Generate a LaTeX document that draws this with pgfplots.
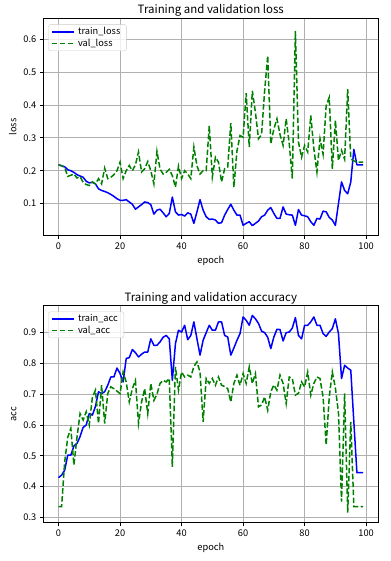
\documentclass[border=0pt]{standalone}
\usepackage{fontspec}
\setmainfont{Noto Sans CJK JP}
\usepackage{pgfplots}
\usepackage{pgfplotstable}
\pgfplotsset{compat=1.18}
\definecolor{mplblue}{RGB}{0,0,255}
\definecolor{mplgreen}{RGB}{0,128,0}
\definecolor{gridgray}{RGB}{176,176,176}
\definecolor{legedge}{RGB}{204,204,204}

\pgfplotstableread{
epoch train val
0 0.218 0.218
1 0.215 0.215
2 0.212 0.210
3 0.203 0.183
4 0.200 0.186
5 0.195 0.190
6 0.188 0.178
7 0.184 0.182
8 0.180 0.165
9 0.168 0.158
10 0.163 0.155
11 0.165 0.166
12 0.160 0.160
13 0.145 0.176
14 0.140 0.160
15 0.137 0.208
16 0.133 0.176
17 0.128 0.180
18 0.122 0.188
19 0.115 0.200
20 0.110 0.226
21 0.110 0.176
22 0.112 0.200
23 0.105 0.216
24 0.098 0.200
25 0.083 0.218
26 0.090 0.257
27 0.097 0.196
28 0.105 0.206
29 0.103 0.228
30 0.097 0.200
31 0.068 0.160
32 0.080 0.259
33 0.083 0.205
34 0.072 0.190
35 0.060 0.195
36 0.070 0.204
37 0.120 0.185
38 0.075 0.150
39 0.065 0.214
40 0.067 0.176
41 0.062 0.200
42 0.072 0.190
43 0.068 0.176
44 0.040 0.272
45 0.075 0.215
46 0.112 0.190
47 0.080 0.200
48 0.060 0.200
49 0.052 0.337
50 0.053 0.181
51 0.050 0.241
52 0.040 0.226
53 0.042 0.166
54 0.065 0.206
55 0.082 0.211
56 0.098 0.345
57 0.080 0.150
58 0.065 0.260
59 0.065 0.307
60 0.034 0.302
61 0.040 0.436
62 0.045 0.272
63 0.033 0.443
64 0.040 0.378
65 0.047 0.297
66 0.060 0.310
67 0.065 0.443
68 0.080 0.550
69 0.088 0.282
70 0.070 0.327
71 0.055 0.358
72 0.055 0.310
73 0.090 0.277
74 0.068 0.358
75 0.066 0.282
76 0.065 0.176
77 0.034 0.625
78 0.082 0.287
79 0.065 0.241
80 0.063 0.277
81 0.060 0.257
82 0.045 0.368
83 0.034 0.267
84 0.055 0.196
85 0.053 0.297
86 0.077 0.250
87 0.075 0.398
88 0.058 0.423
89 0.050 0.206
90 0.034 0.353
91 0.100 0.231
92 0.166 0.262
93 0.140 0.235
94 0.130 0.448
95 0.166 0.236
96 0.265 0.230
97 0.218 0.226
98 0.218 0.226
99 0.218 0.226
}\losstable

\pgfplotstableread{
epoch train val
0 0.429 0.335
1 0.437 0.335
2 0.453 0.480
3 0.502 0.560
4 0.502 0.589
5 0.532 0.470
6 0.540 0.560
7 0.562 0.637
8 0.592 0.616
9 0.600 0.643
10 0.637 0.600
11 0.632 0.690
12 0.660 0.713
13 0.708 0.605
14 0.702 0.729
15 0.708 0.605
16 0.729 0.702
17 0.756 0.724
18 0.756 0.718
19 0.785 0.710
20 0.767 0.702
21 0.740 0.772
22 0.816 0.740
23 0.819 0.675
24 0.845 0.718
25 0.835 0.745
26 0.821 0.605
27 0.830 0.675
28 0.837 0.718
29 0.837 0.637
30 0.880 0.735
31 0.859 0.680
32 0.859 0.700
33 0.870 0.735
34 0.885 0.745
35 0.891 0.740
36 0.880 0.751
37 0.745 0.464
38 0.864 0.789
39 0.908 0.713
40 0.902 0.772
41 0.924 0.756
42 0.877 0.762
43 0.891 0.756
44 0.935 0.790
45 0.880 0.805
46 0.827 0.772
47 0.875 0.610
48 0.900 0.751
49 0.924 0.735
50 0.908 0.751
51 0.908 0.729
52 0.935 0.756
53 0.935 0.729
54 0.891 0.725
55 0.886 0.718
56 0.827 0.675
57 0.850 0.735
58 0.875 0.762
59 0.897 0.729
60 0.951 0.767
61 0.940 0.735
62 0.924 0.789
63 0.956 0.735
64 0.945 0.767
65 0.930 0.659
66 0.905 0.665
67 0.900 0.691
68 0.885 0.648
69 0.848 0.708
70 0.886 0.730
71 0.911 0.713
72 0.910 0.762
73 0.873 0.735
74 0.900 0.670
75 0.902 0.756
76 0.915 0.751
77 0.949 0.697
78 0.891 0.703
79 0.880 0.740
80 0.924 0.724
81 0.924 0.772
82 0.935 0.697
83 0.951 0.735
84 0.924 0.756
85 0.924 0.751
86 0.897 0.691
87 0.888 0.535
88 0.902 0.690
89 0.913 0.772
90 0.945 0.720
91 0.897 0.640
92 0.751 0.351
93 0.794 0.703
94 0.785 0.315
95 0.778 0.610
96 0.610 0.335
97 0.445 0.335
98 0.445 0.335
99 0.445 0.335
}\acctable

\pgfplotsset{
  mpl/.style={
    scale only axis, width=335bp, height=217bp,
    xmin=-4.95, xmax=103.95,
    xtick={0,20,40,60,80,100},
    tick align=outside, xtick pos=left, ytick pos=left,
    major tick length=3.5bp,
    tick style={black, line width=0.8bp},
    axis line style={black, line width=0.8bp},
    grid=major,
    grid style={gridgray, line width=0.8bp},
    /pgf/number format/assume math mode=true,
    /pgf/number format/fixed,
    /pgf/number format/precision=1,
    tick label style={font=\fontsize{9.3}{11}\selectfont},
    label style={font=\fontsize{9.3}{11}\selectfont},
    every axis title shift=0pt,
    title style={font=\fontsize{11.5}{13}\selectfont, anchor=base, yshift=4.5bp},
    xlabel={epoch},
    legend cell align=left,
    legend style={at={(0.015,0.973)}, anchor=north west,
      draw=legedge, rounded corners=2bp, fill=white, fill opacity=0.8, text opacity=1,
      font=\fontsize{9.3}{11}\selectfont, inner xsep=2.5bp, inner ysep=2bp, row sep=0.5bp,
      nodes={inner xsep=3.5bp, inner ysep=1bp}},
    legend image code/.code={\draw[##1] (0bp,0bp) -- (22bp,0bp);},
  },
  trainline/.style={mplblue, line width=1.5bp, line join=round},
  valline/.style={mplgreen, line width=1.5bp, dash pattern=on 5.55bp off 2.4bp},
}

\begin{document}
\begin{tikzpicture}
\path[use as bounding box] (0bp,0bp) rectangle (391bp,561bp);
\begin{axis}[mpl, at={(43.3bp,325.5bp)}, anchor=south west,
  ymin=0.003, ymax=0.663, ytick={0.1,0.2,0.3,0.4,0.5,0.6},
  title={Training and validation loss}, ylabel={loss}]
\addplot[trainline] table[x=epoch, y=train]{\losstable};
\addplot[valline] table[x=epoch, y=val]{\losstable};
\legend{train\_loss, val\_loss}
\end{axis}
\begin{axis}[mpl, at={(43.3bp,38.3bp)}, anchor=south west,
  ymin=0.2825, ymax=0.9876, ytick={0.3,0.4,0.5,0.6,0.7,0.8,0.9},
  title={Training and validation accuracy}, ylabel={acc}]
\addplot[trainline] table[x=epoch, y=train]{\acctable};
\addplot[valline] table[x=epoch, y=val]{\acctable};
\legend{train\_acc, val\_acc}
\end{axis}
\end{tikzpicture}
\end{document}
